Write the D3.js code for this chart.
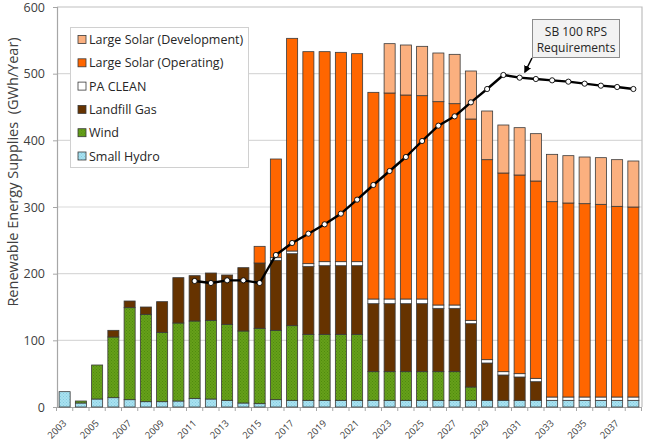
<!DOCTYPE html>
<html><head><meta charset="utf-8">
<script src="https://cdn.jsdelivr.net/npm/d3@7"></script>
<style>
html,body{margin:0;padding:0;background:#fff;}
svg{display:block;font-family:"Open Sans","Noto Sans",sans-serif;}
</style></head>
<body>
<svg id="chart" width="650" height="444"></svg>
<script>
const years = d3.range(2003, 2039);
const smallHydro = [23,6,12,14,11,8,8,9,13,12,10,6,5,11,10,10,10,10,10,10,10,10,10,10,10,10,10,10,10,10,10,10,10,10,10,10];
const wind       = [0,3,51,91,138,131,104,117,116,118,114,108,113,104,112,99,99,99,99,43,43,43,43,43,43,20,0,0,0,0,0,0,0,0,0,0];
const landfill   = [0,0,0,10,10,11,46,68,68,71,74,95,98,105,108,102,103,103,103,102,102,102,102,95,95,95,56,38,35,28,0,0,0,0,0,0];
const paClean    = [0,0,0,0,0,0,0,0,0,0,0,0,0,4,4,4,6,6,6,7,7,7,7,5,5,5,5,5,5,5,5,5,5,5,5,5];
const solarOp    = [0,0,0,0,0,0,0,0,0,0,0,0,25,148,319,318,315,314,312,310,309,306,305,305,302,302,300,298,298,296,293,291,290,289,286,285];
const solarDev   = [0,0,0,0,0,0,0,0,0,0,0,0,0,0,0,0,0,0,0,0,74,75,74,73,74,72,73,72,71,71,71,71,70,70,70,69];
const rpsYears   = d3.range(2011, 2039);
const rpsValues  = [189,186,190,190,186,228,246,260,274,290,311,333,354,375,399,422,436,457,477,498,494,492,490,488,485,482,480,477];
const yTicks = [0,100,200,300,400,500,600];
const xLabelYears = years.filter(y => y % 2 === 1);

const seriesKeys = ["Small Hydro","Wind","Landfill Gas","PA CLEAN","Large Solar (Operating)","Large Solar (Development)"];
const seriesData = [smallHydro, wind, landfill, paClean, solarOp, solarDev];
const fills = {
  "Small Hydro":"url(#pHydro)",
  "Wind":"url(#pWind)",
  "Landfill Gas":"#663300",
  "PA CLEAN":"#ffffff",
  "Large Solar (Operating)":"#ff6600",
  "Large Solar (Development)":"#fbb07f"
};

const table = years.map((yr,i) => {
  const o = {year: yr};
  seriesKeys.forEach((k,j) => o[k] = seriesData[j][i]);
  return o;
});

const svg = d3.select("#chart");
const defs = svg.append("defs");
function dotPattern(id, base, dot){
  const p = defs.append("pattern").attr("id", id).attr("width", 3).attr("height", 3).attr("patternUnits","userSpaceOnUse");
  p.append("rect").attr("width",3).attr("height",3).attr("fill", base);
  p.append("rect").attr("x",0).attr("y",0).attr("width",1).attr("height",1).attr("fill", dot);
  p.append("rect").attr("x",1.5).attr("y",1.5).attr("width",1).attr("height",1).attr("fill", dot);
}
dotPattern("pHydro", "#a9e2f0", "#86cbe0");
dotPattern("pWind", "#66a01a", "#4f8a0e");
defs.append("marker").attr("id","arrow").attr("viewBox","0 0 10 10").attr("refX",8).attr("refY",5)
  .attr("markerWidth",5).attr("markerHeight",5).attr("orient","auto-start-reverse")
  .append("path").attr("d","M0,0L10,5L0,10z").attr("fill","#000");

const L = 57, R = 642, T = 7, B = 407;
const x = d3.scaleBand().domain(years).range([L-0.5, R-0.5]).paddingInner(0.32).paddingOuter(0.16);
const y = d3.scaleLinear().domain([0,600]).range([B, T]);

// gridlines
svg.append("g").selectAll("line").data(yTicks.filter(t => t>0 && t<600)).join("line")
  .attr("x1", L).attr("x2", R).attr("y1", d=>y(d)).attr("y2", d=>y(d))
  .attr("stroke","#d9d9d9").attr("stroke-width",1.2);

// plot frame (top & right)
svg.append("path").attr("d", `M${L},${y(600)}H${R}V${B}`).attr("fill","none").attr("stroke","#bfbfbf").attr("stroke-width",1.2);

// y axis
const yAxis = svg.append("g").attr("transform",`translate(${L},0)`)
  .call(d3.axisLeft(y).tickValues(yTicks).tickSize(4).tickPadding(8));
yAxis.select(".domain").attr("stroke","#a6a6a6").attr("stroke-width",1.2);
yAxis.selectAll(".tick line").attr("stroke","#a6a6a6");
yAxis.selectAll("text").attr("font-size","12.5px").attr("fill","#404040").attr("font-family","Open Sans, sans-serif");

// x axis (baseline only; labels drawn below)
const xAxis = svg.append("g").attr("transform",`translate(0,${B})`)
  .call(d3.axisBottom(x).tickValues([]).tickSize(0).tickSizeOuter(0));
xAxis.select(".domain").attr("stroke","#a6a6a6").attr("stroke-width",1.2);

const step = x.step();
svg.append("g").selectAll("line").data(d3.range(years.length+1)).join("line")
  .attr("x1", i => x(years[0]) - step*x.paddingInner()/2 + i*step)
  .attr("x2", i => x(years[0]) - step*x.paddingInner()/2 + i*step)
  .attr("y1", B).attr("y2", B+4).attr("stroke","#a6a6a6").attr("stroke-width",1);

const xl = svg.append("g").selectAll("g").data(xLabelYears).join("g")
  .attr("transform", d => "translate(" + (x(d) + x.bandwidth()/2) + "," + (B + 14.5) + ") rotate(-45)");
xl.append("text")
  .attr("x",0).attr("y",0)
  .attr("text-anchor","end").attr("dy","0.35em")
  .attr("font-size","9.5px").attr("fill","#404040")
  .text(d => String(d));

// stacked bars
const stack = d3.stack().keys(seriesKeys)(table);
svg.append("g").selectAll("g").data(stack).join("g")
  .attr("fill", d => fills[d.key])
  .selectAll("rect").data(d => d.filter(s => s[1]-s[0] > 0)).join("rect")
  .attr("x", d => x(d.data.year)).attr("width", x.bandwidth())
  .attr("y", d => y(d[1])).attr("height", d => y(d[0]) - y(d[1]))
  .attr("stroke","#3a3a3a").attr("stroke-width",0.8);

// RPS line
const rps = rpsYears.map((yr,i) => ({year: yr, v: rpsValues[i]}));
const cx = d => x(d.year) + x.bandwidth()/2;
svg.append("path").datum(rps)
  .attr("d", d3.line().x(cx).y(d => y(d.v)))
  .attr("fill","none").attr("stroke","#000").attr("stroke-width",2.4).attr("stroke-linejoin","round");
svg.append("g").selectAll("circle").data(rps).join("circle")
  .attr("cx", cx).attr("cy", d => y(d.v)).attr("r", 2.6)
  .attr("fill","#fff").attr("stroke","#000").attr("stroke-width",0.9);

// y axis title
svg.append("text").attr("transform","translate(18,172) rotate(-90)")
  .attr("text-anchor","middle").attr("font-size","14.5px").attr("fill","#404040")
  .style("white-space","pre").text("Renewable Energy Supplies  (GWh/Year)");

// legend
const lg = svg.append("g");
lg.append("rect").attr("x",70.5).attr("y",27.5).attr("width",178).attr("height",140)
  .attr("fill","#fff").attr("stroke","#d0d0d0").attr("stroke-width",1);
const legendOrder = seriesKeys.slice().reverse();
const row = lg.selectAll("g").data(legendOrder).join("g")
  .attr("transform",(d,i)=>`translate(78,${39.5 + i*23.3})`);
row.append("rect").attr("x",0).attr("y",-4).attr("width",8).attr("height",8)
  .attr("fill", d => fills[d]).attr("stroke","#3a3a3a").attr("stroke-width",0.8);
row.append("text").attr("x",11).attr("y",0).attr("dy","0.36em")
  .attr("font-size","12.5px").attr("fill","#262626").text(d=>d);

// annotation
const an = svg.append("g");
an.append("rect").attr("x",532.5).attr("y",19.5).attr("width",87).attr("height",38)
  .attr("fill","#f2f2f2").attr("stroke","#8c8c8c").attr("stroke-width",1);
an.append("text").attr("x",576).attr("y",36).attr("text-anchor","middle").attr("font-size","12px").attr("fill","#262626").text("SB 100 RPS");
an.append("text").attr("x",576).attr("y",52).attr("text-anchor","middle").attr("font-size","12px").attr("fill","#262626").text("Requirements");
an.append("line").attr("x1",532).attr("y1",58).attr("x2",525).attr("y2",72)
  .attr("stroke","#000").attr("stroke-width",1.5).attr("marker-end","url(#arrow)");
</script>
</body></html>
